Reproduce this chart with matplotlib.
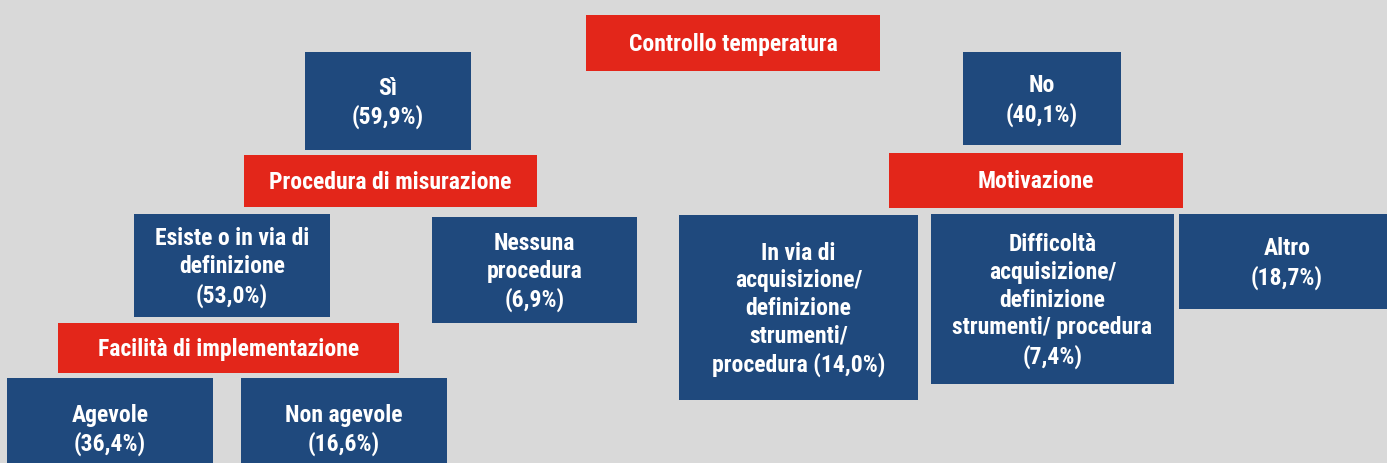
import matplotlib
matplotlib.use("Agg")
import matplotlib.pyplot as plt
from matplotlib.patches import Rectangle
from matplotlib import font_manager

# ---- data ----
headers = ["Controllo temperatura", "Procedura di misurazione", "Motivazione",
           "Facilità di implementazione"]
categories = ["Sì", "No", "Esiste o in via di\ndefinizione", "Nessuna\nprocedura",
              "In via di\nacquisizione/\ndefinizione\nstrumenti/\nprocedura",
              "Difficoltà\nacquisizione/\ndefinizione\nstrumenti/ procedura",
              "Altro", "Agevole", "Non agevole"]
values = [59.9, 40.1, 53.0, 6.9, 14.0, 7.4, 18.7, 36.4, 16.6]
inline_value = [False, False, False, False, True, False, False, False, False]

# ---- layout (pixel boxes: x0, y0, x1, y1) ----
header_boxes = [(586, 15, 880, 71), (244, 155, 537, 207), (889, 153, 1183, 208),
                (58, 323, 399, 373)]
cat_boxes = [(305, 52, 471, 150), (963, 52, 1121, 145), (134, 214, 330, 317),
             (432, 217, 637, 323), (679, 215, 918, 400), (931, 214, 1174, 384),
             (1179, 214, 1395, 309), (7, 378, 213, 478), (241, 378, 447, 478)]

BG = "#d9d9d9"
RED = "#e3261a"
BLUE = "#1f497d"

names = {f.name for f in font_manager.fontManager.ttflist}
fam = None
for cand in ["Liberation Sans Narrow", "Arial Narrow", "Roboto Condensed",
             "Archivo Narrow", "Liberation Sans"]:
    if cand in names:
        fam = cand
        break
fam = [fam, "DejaVu Sans"] if fam else ["DejaVu Sans"]

fig = plt.figure(figsize=(13.87, 4.63), dpi=100, facecolor=BG)
ax = fig.add_axes([0, 0, 1, 1])
ax.set_xlim(0, 1387)
ax.set_ylim(463, 0)
ax.axis("off")
ax.set_facecolor(BG)


def fmt(v):
    return f"{v:.1f}".replace(".", ",") + "%"


def box(b, color, text, dy=0):
    x0, y0, x1, y1 = b
    ax.add_patch(Rectangle((x0, y0), x1 - x0, y1 - y0, facecolor=color,
                           edgecolor="none"))
    ax.text((x0 + x1) / 2, (y0 + y1) / 2 + dy, text, ha="center", va="center",
            color="white", fontsize=17, fontweight="bold", family=fam,
            linespacing=1.26)


for b, t in zip(header_boxes, headers):
    box(b, RED, t, dy=1.5)

for b, c, v, inl in zip(cat_boxes, categories, values, inline_value):
    if inl:
        txt = f"{c} ({fmt(v)})"
    else:
        txt = f"{c}\n({fmt(v)})"
    box(b, BLUE, txt, dy=2)

fig.savefig("out.png", dpi=100, facecolor=BG)
